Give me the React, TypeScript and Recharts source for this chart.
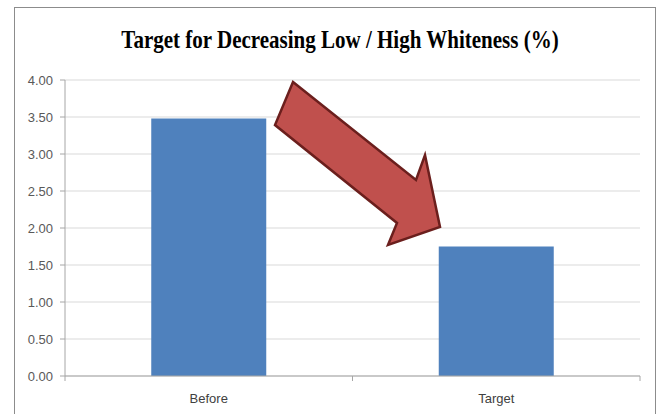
import React from "react";
import { BarChart, Bar, XAxis, YAxis, CartesianGrid } from "recharts";

// Data
const categories: string[] = ["Before", "Target"];
const whitenessValues: number[] = [3.48, 1.75];
const yTicks: number[] = [0, 0.5, 1, 1.5, 2, 2.5, 3, 3.5, 4];
const chartTitle = "Target for Decreasing Low / High Whiteness (%)";

const data = categories.map((name, i) => ({ name, value: whitenessValues[i] }));

// Layout
const W = 662;
const H = 414;
const MARGIN = { top: 80, right: 22, bottom: 8, left: 15 };
const Y_AXIS_W = 50;
const PLOT_W = W - MARGIN.left - MARGIN.right - Y_AXIS_W;
const HALF_BAND = PLOT_W / categories.length / 2;

const AXIS_COLOR = "#a6a6a6";
const GRID_COLOR = "#d9d9d9";
const LABEL_COLOR = "#595959";
const BAR_COLOR = "#4f81bd";

// Category tick: label centred in the band, tick marks on band boundaries
const CategoryTick = (props: any) => {
  const { x, y, payload, index } = props;
  const last = index === categories.length - 1;
  return (
    <g>
      <line x1={x - HALF_BAND} x2={x - HALF_BAND} y1={y} y2={y + 5} stroke={AXIS_COLOR} />
      {last && (
        <line x1={x + HALF_BAND} x2={x + HALF_BAND} y1={y} y2={y + 5} stroke={AXIS_COLOR} />
      )}
      <text
        x={x}
        y={y + 27}
        textAnchor="middle"
        fill="#404040"
        fontSize={13}
        fontFamily="'Liberation Sans', Arial, sans-serif"
      >
        {payload.value}
      </text>
    </g>
  );
};

// Decorative arrow pointing from the "Before" bar down to the "Target" bar
const ARROW_POINTS = "293,82 416,180 425,155 440,227 388,245 397,223 275,125";

export default function App() {
  return (
    <div
      style={{
        position: "absolute",
        left: 0,
        top: 0,
        width: W,
        height: H,
        overflow: "hidden",
        background: "#ffffff",
      }}
    >
      <div
        style={{
          position: "absolute",
          left: 14,
          top: 7,
          width: 642,
          height: 430,
          border: "1px solid #8c8c8c",
          boxSizing: "border-box",
        }}
      />
      <div
        style={{
          position: "absolute",
          left: 0,
          top: 28,
          width: 680,
          textAlign: "center",
          fontFamily: "'Liberation Serif', 'Times New Roman', serif",
          fontWeight: "bold",
          fontSize: 21,
          color: "#000000",
          transform: "scaleY(1.2)",
          whiteSpace: "nowrap",
        }}
      >
        {chartTitle}
      </div>
      <div style={{ position: "absolute", left: 0, top: 0 }}>
        <BarChart width={W} height={H} data={data} margin={MARGIN} barCategoryGap="30%">
          <CartesianGrid vertical={false} stroke={GRID_COLOR} />
          <XAxis
            dataKey="name"
            tickSize={0}
            tickMargin={0}
            tickLine={false}
            axisLine={{ stroke: AXIS_COLOR }}
            tick={<CategoryTick />}
            interval={0}
            height={30}
          />
          <YAxis
            width={Y_AXIS_W}
            domain={[0, 4]}
            ticks={yTicks}
            interval={0}
            tickSize={5}
            tickMargin={7}
            axisLine={{ stroke: AXIS_COLOR }}
            tickLine={{ stroke: AXIS_COLOR }}
            tickFormatter={(v: number) => v.toFixed(2)}
            tick={{ fill: LABEL_COLOR, fontSize: 13, fontFamily: "'Liberation Sans', Arial, sans-serif" }}
          />
          <Bar dataKey="value" fill={BAR_COLOR} isAnimationActive={false} />
        </BarChart>
      </div>
      <svg
        width={W}
        height={H}
        style={{ position: "absolute", left: 0, top: 0, pointerEvents: "none" }}
      >
        <polygon
          points={ARROW_POINTS}
          fill="#c0504d"
          stroke="#6b1f1d"
          strokeWidth={2.5}
          strokeLinejoin="miter"
        />
      </svg>
    </div>
  );
}
